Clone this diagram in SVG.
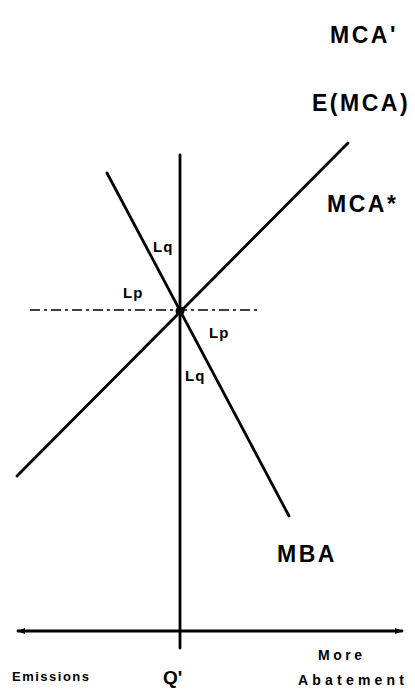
<svg xmlns="http://www.w3.org/2000/svg" width="415" height="690" viewBox="0 0 415 690">
<style>
.ln{stroke:#000;stroke-width:2.8;fill:none;stroke-linecap:round}
.big{font-family:"Liberation Sans",Arial,sans-serif;font-size:23px;font-weight:bold;letter-spacing:2.5px;fill:#000}
.sm{font-family:"Liberation Sans",Arial,sans-serif;font-size:15px;font-weight:bold;letter-spacing:1px;fill:#000}
.ax{font-family:"Liberation Sans",Arial,sans-serif;font-size:13px;font-weight:bold;letter-spacing:1.5px;fill:#000}
</style>
<defs>
<marker id="ah" markerWidth="8" markerHeight="6" refX="7" refY="3" orient="auto-start-reverse" markerUnits="userSpaceOnUse">
<path d="M0,0 L8,3 L0,6 Z" fill="#000"/>
</marker>
</defs>
<rect width="415" height="690" fill="#fff"/>
<g id="connectors">
<line id="h-axis" class="ln" x1="18" y1="631" x2="402" y2="631" marker-start="url(#ah)" marker-end="url(#ah)"/>
<line id="v-axis" class="ln" x1="180" y1="155" x2="180" y2="648"/>
<line id="dashed" x1="30" y1="310" x2="257" y2="310" stroke="#000" stroke-width="1.3" stroke-dasharray="10,4,3,4"/>
<line id="emca-line" class="ln" x1="17" y1="476" x2="348" y2="143"/>
<line id="mba-line" class="ln" x1="107" y1="173" x2="289" y2="516"/>
</g>
<g id="point"><circle cx="180" cy="311" r="4.5" fill="#000"/></g>
<g id="mca-prime"><text class="big" x="330" y="43">MCA'</text></g>
<g id="emca"><text class="big" x="312" y="111">E(MCA)</text></g>
<g id="mca-star"><text class="big" x="327" y="212">MCA*</text></g>
<g id="mba"><text class="big" x="277" y="562">MBA</text></g>
<g id="labels">
<text class="sm" x="153" y="252">Lq</text>
<text class="sm" x="123" y="298">Lp</text>
<text class="sm" x="209" y="338">Lp</text>
<text class="sm" x="185" y="381">Lq</text>
</g>
<g id="axis-labels">
<text class="ax" x="12" y="681">Emissions</text>
<text x="163" y="684" font-family="Liberation Sans,Arial,sans-serif" font-size="19" font-weight="bold">Q'</text>
<text class="ax" x="318" y="660" style="font-size:14px;letter-spacing:3.5px">More</text>
<text class="ax" x="298" y="685" style="font-size:14px;letter-spacing:4.2px">Abatement</text>
</g>
</svg>
